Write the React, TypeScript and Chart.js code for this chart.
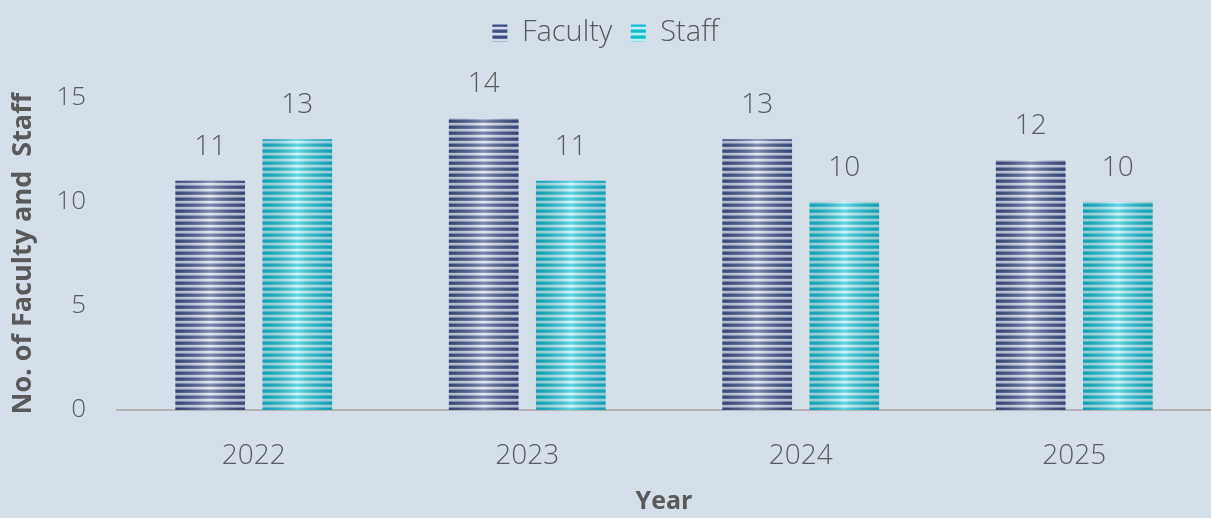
import React, { useEffect, useRef } from "react";
import { Chart, registerables } from "chart.js";

Chart.register(...registerables);

const categories = ["2022", "2023", "2024", "2025"];
const facultyValues = [11, 14, 13, 12];
const staffValues = [13, 11, 10, 10];
const seriesNames = ["Faculty", "Staff"];
const yTicks = [0, 5, 10, 15];

const FONT = "'Open Sans', 'DejaVu Sans', sans-serif";
const TEXT = "#5a5a5a";
const BG = "#d5dfe9";

function stripePattern(stripes: [string, number][]) {
  const c = document.createElement("canvas");
  const h = stripes.reduce((a, s) => a + s[1], 0);
  c.width = 1;
  c.height = h;
  const ctx = c.getContext("2d")!;
  let y = 0;
  for (const [col, n] of stripes) {
    ctx.fillStyle = col;
    ctx.fillRect(0, y, 1, n);
    y += n;
  }
  return ctx.createPattern(c, "repeat")!;
}

const barShade = {
  id: "barShade",
  afterDatasetsDraw(chart: any) {
    const ctx = chart.ctx;
    chart.data.datasets.forEach((ds: any, i: number) => {
      const meta = chart.getDatasetMeta(i);
      meta.data.forEach((bar: any, j: number) => {
        const { x, y, base, width } = bar.getProps(["x", "y", "base", "width"], true);
        const l = x - width / 2;
        const g = ctx.createLinearGradient(l, 0, l + width, 0);
        g.addColorStop(0, "rgba(20,30,70,0.18)");
        g.addColorStop(0.5, "rgba(255,255,255,0.35)");
        g.addColorStop(1, "rgba(20,30,70,0.18)");
        ctx.save();
        ctx.fillStyle = g;
        ctx.fillRect(l, y, width, base - y);
        ctx.fillStyle = TEXT;
        ctx.font = `300 28px ${FONT}`;
        ctx.textAlign = "center";
        ctx.textBaseline = "middle";
        ctx.fillText(String(ds.data[j]), x, y - 34);
        ctx.restore();
      });
    });
  },
};

export default function App() {
  const ref = useRef<HTMLCanvasElement>(null);
  useEffect(() => {
    const facultyFill = stripePattern([
      ["#3f4e80", 2],
      ["#5b6a9a", 1],
      ["#d6dcea", 2],
      ["#8b97bc", 1],
    ]);
    const staffFill = stripePattern([
      ["#12bccd", 2],
      ["#35cedd", 1],
      ["#b8f0f4", 2],
      ["#5cd8e3", 1],
    ]);
    const chart = new Chart(ref.current!, {
      type: "bar",
      data: {
        labels: categories,
        datasets: [
          {
            label: seriesNames[0],
            data: facultyValues,
            backgroundColor: facultyFill as any,
            categoryPercentage: 0.637,
            barPercentage: 0.8,
          },
          {
            label: seriesNames[1],
            data: staffValues,
            backgroundColor: staffFill as any,
            categoryPercentage: 0.637,
            barPercentage: 0.8,
          },
        ],
      },
      options: {
        responsive: false,
        animation: false,
        devicePixelRatio: 1,
        layout: { padding: 0 },
        plugins: {
          tooltip: { enabled: false },
          legend: {
            position: "top",
            labels: {
              boxWidth: 15,
              boxHeight: 17,
              padding: 18.5,
              color: TEXT,
              font: { family: FONT, size: 29, weight: "300" as any },
            },
          },
          subtitle: {
            display: true,
            text: "",
            font: { size: 1, lineHeight: 1 },
            padding: { top: 0, bottom: 39 },
            weight: 500 as any,
          } as any,
        },
        scales: {
          x: {
            grid: { display: false, drawTicks: false },
            border: { display: true, color: "#b3b3b3", width: 2 },
            ticks: {
              color: TEXT,
              padding: 29,
              font: { family: FONT, size: 28, weight: "300" as any },
            },
            title: {
              display: true,
              text: "Year",
              color: TEXT,
              font: { family: FONT, size: 25, weight: "bold" },
              padding: { top: 0, bottom: 1 },
            },
            afterFit: (s: any) => {
              s.height = 108;
            },
          },
          y: {
            min: 0,
            max: 15,
            afterBuildTicks: (s: any) => {
              s.ticks = yTicks.map((v) => ({ value: v }));
            },
            grid: { display: false, drawTicks: false },
            border: { display: false },
            ticks: {
              color: TEXT,
              padding: 31,
              font: { family: FONT, size: 26, weight: "300" as any },
            },
            title: {
              display: true,
              text: "No. of Faculty and  Staff",
              color: TEXT,
              font: { family: FONT, size: 27, weight: "bold" },
              padding: { top: 7, bottom: 0 },
            },
            afterFit: (s: any) => {
              s.width = 117;
            },
          },
        },
      },
      plugins: [barShade],
    });
    return () => chart.destroy();
  }, []);
  return (
    <div style={{ position: "fixed", left: 0, top: 0, width: 1211, height: 518, background: BG }}>
      <canvas ref={ref} width={1211} height={518} style={{ width: 1211, height: 518, display: "block" }} />
    </div>
  );
}
